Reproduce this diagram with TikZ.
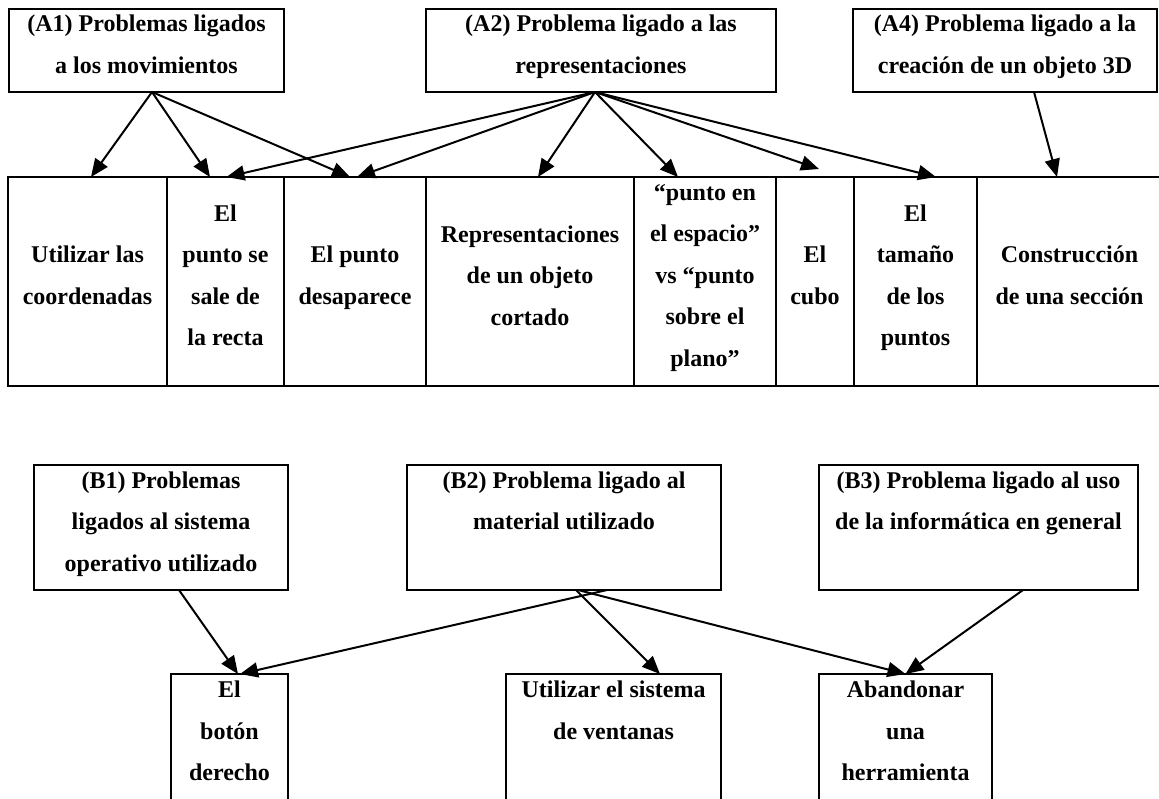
\documentclass[tikz,border=0pt]{standalone}
\usepackage{fontspec}
\setmainfont{Liberation Serif}
\usetikzlibrary{arrows.meta, positioning}

\begin{document}
\begin{tikzpicture}[
    x=0.5pt, y=-0.5pt,
    node distance=0pt,
    font=\bfseries\fontsize{12}{20.7}\selectfont,
    >={Triangle[length=9pt, width=7.5pt]},
    box/.style={rectangle, draw, line width=1.1pt, align=center, inner sep=2pt, outer sep=0pt, anchor=north west},
    cell/.style={box, minimum height=104.5pt},
    low/.style={box, inner ysep=3.5pt},
    line/.style={draw, ->, line width=1pt}
]
\useasboundingbox (0,0) rectangle (1159,798);
\clip (0,0) rectangle (1159,798);

% Problem boxes (A)
\node[box, minimum width=137.5pt, minimum height=41.5pt] (a1) at (9,9) {(A1) Problemas ligados\\a los movimientos\strut};
\node[box, minimum width=175pt, minimum height=41.5pt] (a2) at (426,9) {(A2) Problema ligado a las\\representaciones\strut};
\node[box, minimum width=152pt, minimum height=41.5pt] (a4) at (853,9) {(A4) Problema ligado a la\\creación de un objeto 3D\strut};

% Table row
\node[cell, minimum width=79.5pt] (c1) at (8,177) {Utilizar las\\coordenadas\strut};
\node[cell, minimum width=58.5pt, right=of c1] (c2) {El\\punto se\\sale de\\la recta\strut};
\node[cell, minimum width=71pt, right=of c2] (c3) {El punto\\desaparece\strut};
\node[cell, minimum width=104pt, right=of c3] (c4) {Representaciones\\de un objeto\\cortado\strut};
\node[cell, minimum width=71pt, right=of c4] (c5) {“punto en\\el espacio”\\vs “punto\\sobre el\\plano”\strut};
\node[cell, minimum width=39pt, right=of c5] (c6) {El\\cubo\strut};
\node[cell, minimum width=61.5pt, right=of c6] (c7) {El\\tamaño\\de los\\puntos\strut};
\node[cell, minimum width=92.5pt, right=of c7] (c8) {Construcción\\de una sección\strut};

% Problem boxes (B)
\node[box, minimum width=127pt, minimum height=62.5pt] (b1) at (34,465) {(B1) Problemas\\ligados al sistema\\operativo utilizado\strut};
\node[box, minimum width=157pt, minimum height=62.5pt] (b2) at (407,465) {(B2) Problema ligado al\\material utilizado\\\strut};
\node[box, minimum width=159.5pt, minimum height=62.5pt] (b3) at (819,465) {(B3) Problema ligado al uso\\de la informática en general\\\strut};

% Bottom boxes
\node[low, minimum width=58.5pt] (bt) at (171,674) {El\\botón\\derecho\\\mbox{}};
\node[low, minimum width=107.5pt] (vt) at (506,674) {Utilizar el sistema\\de ventanas\\\mbox{}\\\mbox{}};
\node[low, minimum width=86.5pt] (ab) at (819,674) {Abandonar\\una\\herramienta\\\mbox{}};

% Edges A
\draw[line] ([xshift=2.75pt]a1.south) -- ([xshift=1.75pt]c1.north);
\draw[line] ([xshift=2.75pt]a1.south) -- ([xshift=-7.75pt]c2.north);
\draw[line] ([xshift=2.75pt]a1.south) -- ([xshift=-2.5pt]c3.north);
\draw[line] ([xshift=-3pt]a2.south) -- ([xshift=0.5pt]c2.north);
\draw[line] ([xshift=-3pt]a2.south) -- ([xshift=1pt]c3.north);
\draw[line] ([xshift=-3pt]a2.south) -- ([xshift=4pt]c4.north);
\draw[line] ([xshift=-3pt]a2.south) -- ([xshift=-13.5pt]c5.north);
\draw[line] ([xshift=-3pt]a2.south) -- ([xshift=2pt, yshift=4pt]c6.north);
\draw[line] ([xshift=-3pt]a2.south) -- ([xshift=10.25pt]c7.north);
\draw[line] ([xshift=14.5pt]a4.south) -- ([xshift=-6.25pt]c8.north);

% Edges B
\draw[line] ([xshift=9pt]b1.south) -- ([xshift=4.25pt]bt.north);
\draw[line] ([xshift=21.5pt]b2.south) -- ([xshift=5.25pt]bt.north);
\draw[line] ([xshift=6pt]b2.south) -- ([xshift=23.25pt]vt.north);
\draw[line] ([xshift=7pt]b2.south) -- (ab.north);
\draw[line] ([xshift=22.25pt]b3.south) -- (ab.north);

\end{tikzpicture}
\end{document}
